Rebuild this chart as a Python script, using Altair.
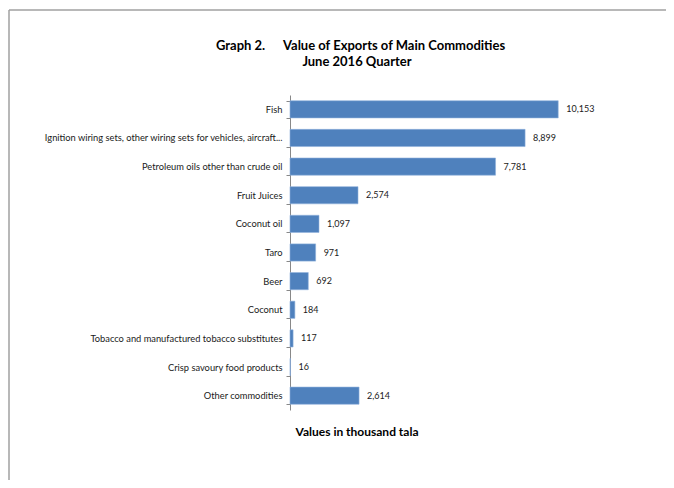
import altair as alt
import pandas as pd

categories = [
    "Fish",
    "Ignition wiring sets, other wiring sets for vehicles, aircraft...",
    "Petroleum oils other than crude oil",
    "Fruit Juices",
    "Coconut oil",
    "Taro",
    "Beer",
    "Coconut",
    "Tobacco and manufactured tobacco substitutes",
    "Crisp savoury food products",
    "Other commodities",
]
values = [10153, 8899, 7781, 2574, 1097, 971, 692, 184, 117, 16, 2614]

title_lead = "Graph 2."
title_main = "Value of Exports of Main Commodities"
title_sub = "June 2016 Quarter"
x_title = "Values in thousand tala"

df = pd.DataFrame({"commodity": categories, "value": values})

FONT = "Lato"
W, H = 317, 315

y_enc = alt.Y(
    "commodity:N",
    sort=categories,
    scale=alt.Scale(paddingInner=0.4, paddingOuter=0.2),
    axis=alt.Axis(
        title=None,
        tickBand="extent",
        tickSize=4,
        labelPadding=4,
        labelLimit=400,
        labelFont=FONT,
        labelFontSize=9.3,
        labelColor="#1a1a1a",
        domainColor="#888888",
        tickColor="#888888",
        grid=False,
    ),
)
x_enc = alt.X("value:Q", scale=alt.Scale(domain=[0, 12000], nice=False), axis=None)

bars = alt.Chart(df).mark_bar(color="#4F81BD", stroke="#8fb0dc", strokeWidth=0.6).encode(x=x_enc, y=y_enc)
labels = alt.Chart(df).mark_text(
    align="left", baseline="middle", dx=8, font=FONT, fontSize=9, color="#1a1a1a"
).encode(x=x_enc, y=y_enc, text=alt.Text("value:Q", format=","))

one = pd.DataFrame({"a": [0]})

def txt(s, x, y, align="left", size=13, bold=True):
    return alt.Chart(one).mark_text(
        text=s, align=align, baseline="middle", font=FONT, fontSize=size,
        fontWeight="bold" if bold else "normal", color="#000000"
    ).encode(x=alt.value(x), y=alt.value(y))

OX, OY = 290, 95  # page position of plot origin
TOTAL_W, TOTAL_H = 658, 472

t1 = txt(title_lead, 216 - OX, 46 - OY)
t2 = txt(title_main, 283 - OX, 46 - OY)
t3 = txt(title_sub, 357 - OX, 62 - OY, align="center")
t4 = txt(x_title, 357 - OX, 432 - OY, align="center", size=12)

frame_left = alt.Chart(one).mark_rule(color="#a0a0a0", strokeWidth=1.5).encode(
    x=alt.value(9 - OX), y=alt.value(10 - OY), y2=alt.value(600)
)
frame_top = alt.Chart(one).mark_rule(color="#a0a0a0", strokeWidth=1.5).encode(
    x=alt.value(9 - OX), x2=alt.value(700), y=alt.value(10 - OY)
)

chart = alt.layer(frame_left, frame_top, bars, labels, t1, t2, t3, t4).properties(
    width=W,
    height=H,
    padding={
        "left": OX - 8,
        "top": OY - 8,
        "right": TOTAL_W - (OX - 8) - W,
        "bottom": TOTAL_H - (OY - 8) - H,
    },
    autosize=alt.AutoSizeParams(type="none"),
    background="white",
).configure_view(stroke=None)

chart.save("out.html", embed_options={"renderer": "svg", "actions": False})
